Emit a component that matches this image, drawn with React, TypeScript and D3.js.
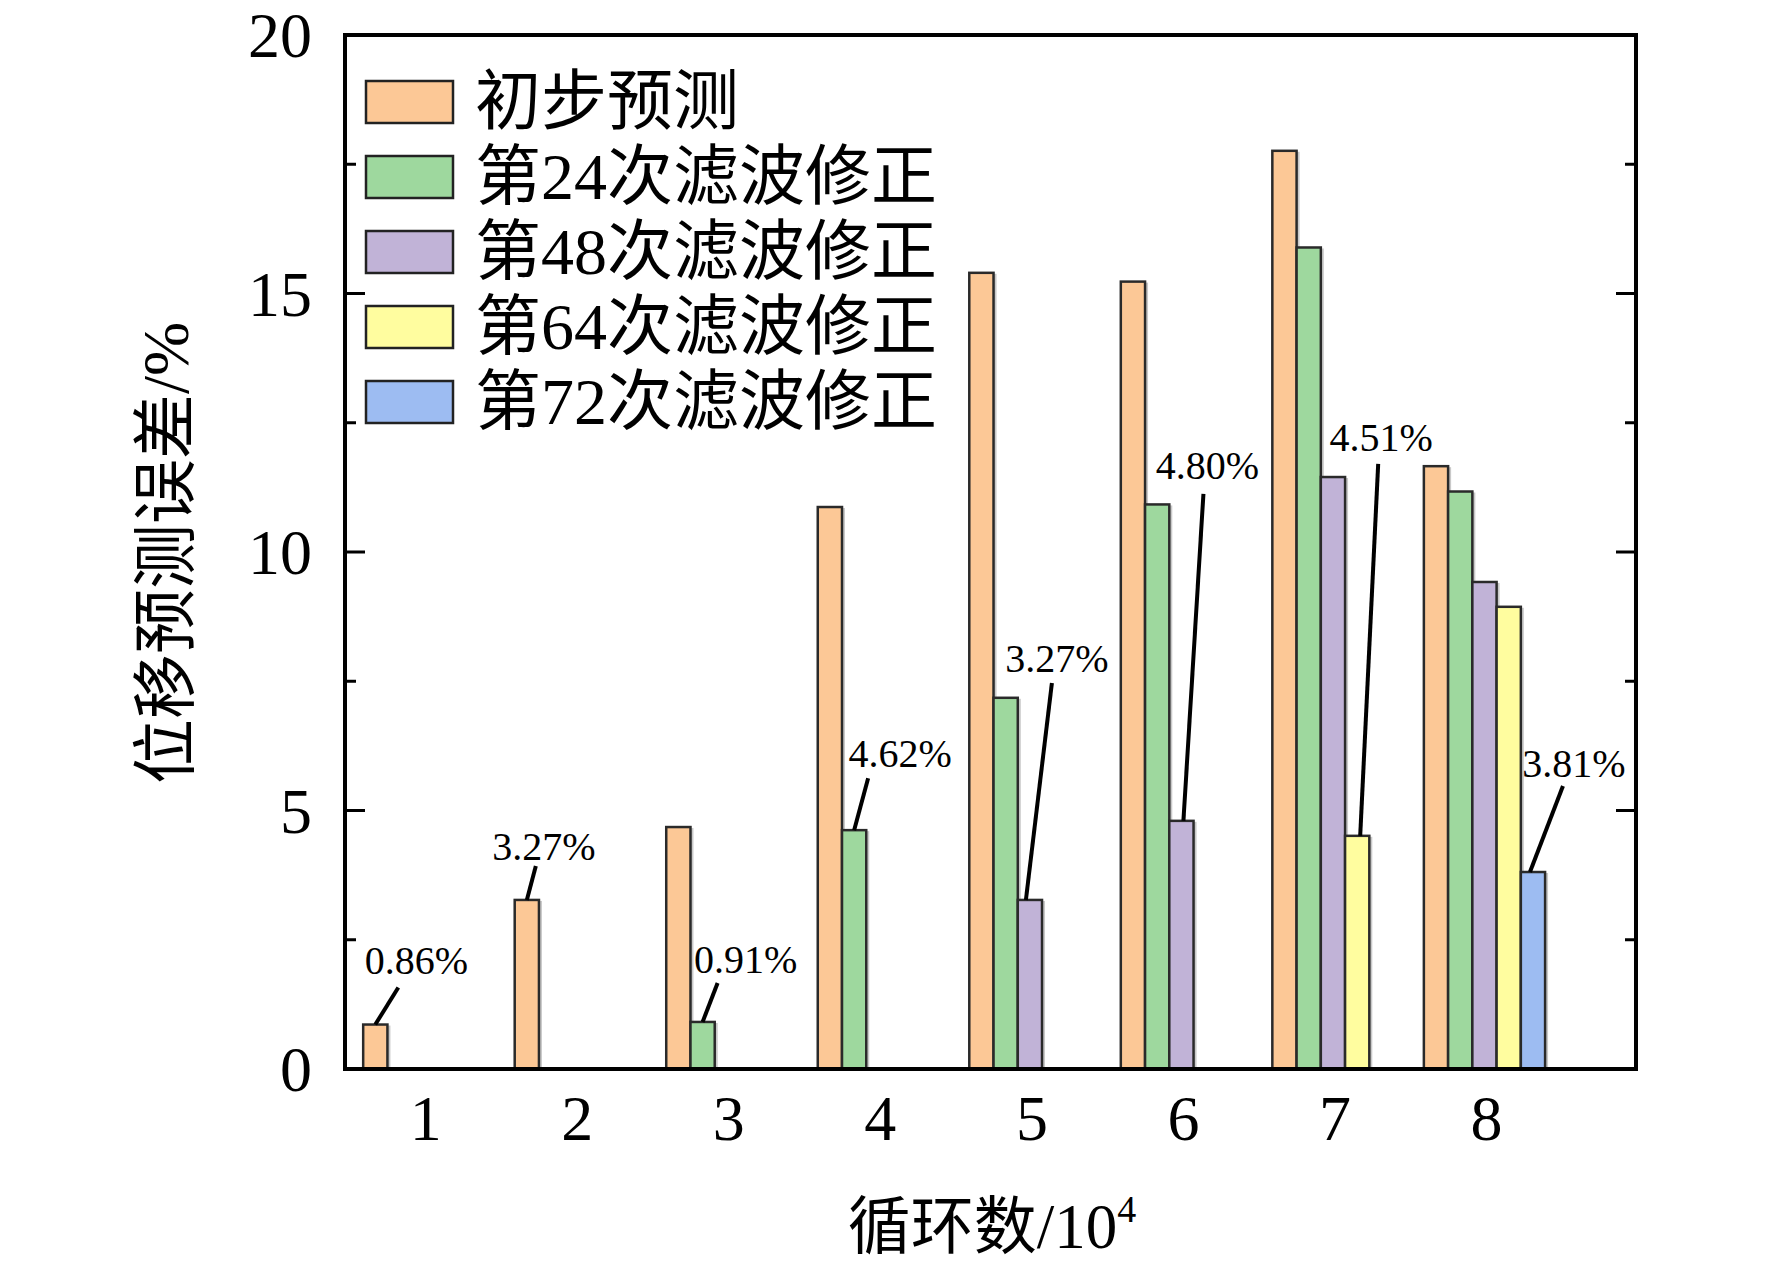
import * as d3 from "d3";

const categories = [1, 2, 3, 4, 5, 6, 7, 8];
const seriesNames = [
  "初步预测",
  "第24次滤波修正",
  "第48次滤波修正",
  "第64次滤波修正",
  "第72次滤波修正",
];
const initialPred = [0.86, 3.27, 4.68, 10.87, 15.4, 15.23, 17.76, 11.66];
const filter24 = [null, null, 0.91, 4.62, 7.18, 10.92, 15.89, 11.17];
const filter48 = [null, null, null, null, 3.27, 4.8, 11.45, 9.42];
const filter64 = [null, null, null, null, null, null, 4.51, 8.94];
const filter72 = [null, null, null, null, null, null, null, 3.81];
const yTicks = [0, 5, 10, 15, 20];
const yMinorTicks = [2.5, 7.5, 12.5, 17.5];

const series = [initialPred, filter24, filter48, filter64, filter72];
const colors = ["#FCC896", "#9ED89E", "#C1B3D7", "#FFFD9F", "#9DBCF2"];

// label placement per group: [line start dx, line end dx, line end dy, text dx, text baseline dy]
const labelLayout = [
  [0, 23, -37, 41, -51],
  [0, 9, -34, 17, -40],
  [0, 15, -39, 43, -49],
  [0, 14, -52, 46, -63],
  [-4, 22, -217, 27, -228],
  [2, 22, -327, 26, -342],
  [3, 21, -372, 24, -385],
  [-3, 30, -86, 41, -95],
];

const W = 1772;
const H = 1265;
const frame = { left: 345, right: 1636, top: 35, bottom: 1069 };
const serif = "'Liberation Serif', 'Times New Roman', 'Noto Sans CJK SC', serif";

export default function App() {
  const x = d3.scaleLinear().domain([0.48, 9]).range([frame.left, frame.right]);
  const y = d3.scaleLinear().domain([0, 20]).range([frame.bottom, frame.top]);
  const step = x(2) - x(1);
  const bw = step * 0.16;

  const bars = [];
  categories.forEach((c, i) => {
    series.forEach((s, k) => {
      const v = s[i];
      if (v == null) return;
      const bx = x(c) + (k - 2.5) * bw;
      bars.push({ key: `${i}-${k}`, x: bx, y: y(v), h: y(0) - y(v), color: colors[k] });
    });
  });

  const labels = categories.map((c, i) => {
    let k = series.length - 1;
    while (k >= 0 && series[k][i] == null) k--;
    const v = series[k][i];
    const cx = x(c) + (k - 2) * bw;
    const cy = y(v);
    const [sdx, edx, edy, tdx, tdy] = labelLayout[i];
    return { key: i, x1: cx + sdx, y1: cy, x2: cx + edx, y2: cy + edy, tx: cx + tdx, ty: cy + tdy, text: `${v.toFixed(2)}%` };
  });

  return (
    <div style={{ position: "absolute", left: 0, top: 0, background: "#fff" }}>
      <svg width={W} height={H} viewBox={`0 0 ${W} ${H}`} style={{ display: "block" }}>
        <rect width={W} height={H} fill="#fff" />

        {/* bars */}
        {bars.map((b) => (
          <rect key={"s" + b.key} x={b.x + 3} y={b.y + 1} width={bw} height={b.h} fill="#c9c9c9" />
        ))}
        {bars.map((b) => (
          <rect key={b.key} x={b.x} y={b.y} width={bw} height={b.h} fill={b.color} stroke="#2a2a2a" strokeWidth={2.5} />
        ))}

        {/* frame and ticks */}
        <rect
          x={frame.left}
          y={frame.top}
          width={frame.right - frame.left}
          height={frame.bottom - frame.top}
          fill="none"
          stroke="#000"
          strokeWidth={4}
        />
        {yTicks.concat(yMinorTicks).map((t) => {
          const len = yTicks.includes(t) ? 20 : 11;
          return (
            <g key={"t" + t}>
              <line x1={frame.left} x2={frame.left + len} y1={y(t)} y2={y(t)} stroke="#000" strokeWidth={3} />
              <line x1={frame.right} x2={frame.right - len} y1={y(t)} y2={y(t)} stroke="#000" strokeWidth={3} />
            </g>
          );
        })}
        {yTicks.map((t) => (
          <text key={"yl" + t} x={312} y={y(t)} dy="0.35em" textAnchor="end" fontFamily={serif} fontSize={64}>
            {t}
          </text>
        ))}
        {categories.map((c) => (
          <text key={"xl" + c} x={x(c) + 2} y={1140} textAnchor="middle" fontFamily={serif} fontSize={64}>
            {c}
          </text>
        ))}

        {/* annotations */}
        {labels.map((l) => (
          <g key={"a" + l.key}>
            <line x1={l.x1} y1={l.y1} x2={l.x2} y2={l.y2} stroke="#000" strokeWidth={4} />
            <text x={l.tx} y={l.ty} textAnchor="middle" fontFamily={serif} fontSize={40}>
              {l.text}
            </text>
          </g>
        ))}

        {/* legend */}
        {seriesNames.map((name, k) => {
          const cy = 102 + k * 75;
          return (
            <g key={"lg" + k}>
              <rect x={366} y={cy - 21} width={87} height={42} fill={colors[k]} stroke="#222" strokeWidth={2.5} />
              <text x={475} y={cy + 22} fontFamily={serif} fontSize={66}>
                {name}
              </text>
            </g>
          );
        })}

        {/* axis titles */}
        <text
          transform={`translate(188,553) rotate(-90)`}
          textAnchor="middle"
          fontFamily={serif}
          fontSize={65}
        >
          位移预测误差/%
        </text>
        <text x={992} y={1248} textAnchor="middle" fontFamily={serif} fontSize={63}>
          循环数/10
          <tspan fontSize={38} dy={-26}>
            4
          </tspan>
        </text>
      </svg>
    </div>
  );
}
